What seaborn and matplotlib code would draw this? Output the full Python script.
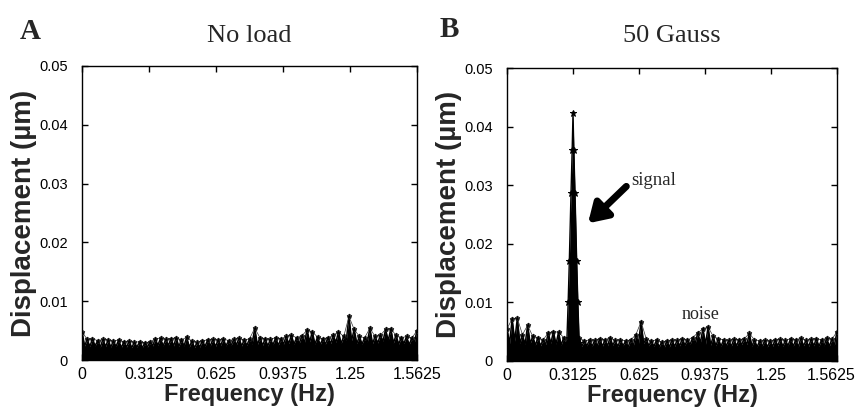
import numpy as np
import pandas as pd
import matplotlib
matplotlib.use("Agg")
import matplotlib.pyplot as plt
import matplotlib.transforms as mtransforms
import seaborn as sns

# ---------------- data ----------------
f_max = 1.5625
n_bins = 65                       # FFT bins 0 .. 1.5625 Hz
tick_vals = [0, 0.3125, 0.625, 0.9375, 1.25, 1.5625]
tick_labels = ["0", "0.3125", "0.625", "0.9375", "1.25", "1.5625"]
ytick_vals = [0, 0.01, 0.02, 0.03, 0.04, 0.05]
ytick_labels = ["0", "0.01", "0.02", "0.03", "0.04", "0.05"]

# Panel A (No load): local maxima of the spectrum at each bin (µm)
peaks_A = [0.0048,
           0.0035, 0.0036, 0.0033, 0.0035, 0.0034, 0.0032, 0.0034, 0.0031,
           0.0032, 0.0030, 0.0031, 0.0029, 0.0031, 0.0036, 0.0037, 0.0035,
           0.0036, 0.0038, 0.0034, 0.0039, 0.0032, 0.0030, 0.0033, 0.0034,
           0.0035, 0.0034, 0.0036, 0.0033, 0.0035, 0.0037, 0.0034, 0.0036,
           0.0054, 0.0038, 0.0036, 0.0035, 0.0038, 0.0036, 0.0040, 0.0042,
           0.0038, 0.0041, 0.0051, 0.0048, 0.0039, 0.0036, 0.0038, 0.0042,
           0.0048, 0.0040, 0.0074, 0.0052, 0.0040, 0.0038, 0.0054, 0.0040,
           0.0042, 0.0052, 0.0053, 0.0042, 0.0038, 0.0040, 0.0037, 0.0050]
# Panel A: minima between neighbouring bins (µm)
troughs_A = [0.0024, 0.0023, 0.0024, 0.0022, 0.0023, 0.0022, 0.0023, 0.0021,
             0.0022, 0.0021, 0.0022, 0.0021, 0.0022, 0.0024, 0.0025, 0.0024,
             0.0025, 0.0024, 0.0023, 0.0024, 0.0022, 0.0021, 0.0022, 0.0023,
             0.0024, 0.0023, 0.0025, 0.0024, 0.0025, 0.0026, 0.0024, 0.0025,
             0.0027, 0.0026, 0.0025, 0.0024, 0.0026, 0.0025, 0.0027, 0.0028,
             0.0027, 0.0028, 0.0030, 0.0031, 0.0027, 0.0026, 0.0027, 0.0028,
             0.0030, 0.0028, 0.0034, 0.0033, 0.0028, 0.0027, 0.0030, 0.0028,
             0.0029, 0.0032, 0.0033, 0.0029, 0.0027, 0.0028, 0.0026, 0.0030]

# Panel B (50 Gauss): background noise
peaks_B = [0.0055,
           0.0072, 0.0073, 0.0045, 0.0061, 0.0042, 0.0040, 0.0036, 0.0048,
           0.0050, 0.0049, 0.0040, 0.0040, 0.0040, 0.0040, 0.0034, 0.0036,
           0.0035, 0.0038, 0.0036, 0.0040, 0.0035, 0.0036, 0.0034, 0.0036,
           0.0045, 0.0067, 0.0038, 0.0034, 0.0036, 0.0032, 0.0034, 0.0036,
           0.0035, 0.0038, 0.0036, 0.0040, 0.0048, 0.0055, 0.0058, 0.0042,
           0.0038, 0.0036, 0.0035, 0.0037, 0.0036, 0.0038, 0.0047, 0.0036,
           0.0034, 0.0035, 0.0034, 0.0036, 0.0037, 0.0035, 0.0038, 0.0036,
           0.0039, 0.0035, 0.0037, 0.0038, 0.0036, 0.0039, 0.0037, 0.0050]
troughs_B = [0.0030, 0.0034, 0.0030, 0.0028, 0.0030, 0.0027, 0.0026, 0.0028,
             0.0030, 0.0029, 0.0027, 0.0026, 0.0026, 0.0027, 0.0025, 0.0026,
             0.0025, 0.0026, 0.0025, 0.0026, 0.0027, 0.0025, 0.0026, 0.0024,
             0.0026, 0.0030, 0.0030, 0.0026, 0.0025, 0.0024, 0.0023, 0.0024,
             0.0025, 0.0026, 0.0027, 0.0028, 0.0030, 0.0031, 0.0029, 0.0027,
             0.0026, 0.0025, 0.0026, 0.0025, 0.0026, 0.0028, 0.0028, 0.0025,
             0.0024, 0.0025, 0.0024, 0.0025, 0.0026, 0.0025, 0.0026, 0.0025,
             0.0024, 0.0026, 0.0025, 0.0026, 0.0025, 0.0026, 0.0025, 0.0027]

# Panel B: the driven signal peak at 0.3125 Hz
signal_freq = [0.2830, 0.2895, 0.2950, 0.3030, 0.3085, 0.3125,
               0.3165, 0.3220, 0.3300, 0.3355, 0.3420]
signal_amp = [0.0030, 0.0100, 0.0170, 0.0286, 0.0360, 0.0423,
              0.0360, 0.0286, 0.0170, 0.0100, 0.0030]

# ---------------- style ----------------
sns.set_theme(style="ticks")
plt.rcParams["font.family"] = ["Liberation Sans", "DejaVu Sans"]
plt.rcParams["axes.linewidth"] = 1.0
serif = ["Liberation Serif", "DejaVu Serif"]

fig = plt.figure(figsize=(8.59, 4.12), dpi=100)
axA = fig.add_axes([82 / 859, 1 - 360 / 412, 335 / 859, 294 / 412])
axB = fig.add_axes([507 / 859, 1 - 361 / 412, 330 / 859, 293 / 412])

freq = np.linspace(0, f_max, n_bins)


def zigzag(peaks, troughs):
    half = (freq[1] - freq[0]) / 2
    xs, ys = [], []
    for i in range(n_bins - 1):
        xs += [freq[i], freq[i] + half]
        ys += [peaks[i], troughs[i]]
    xs.append(freq[-1])
    ys.append(peaks[-1])
    return np.array(xs), np.array(ys)


def draw_spectrum(ax, peaks, troughs):
    xs, ys = zigzag(peaks, troughs)
    ax.fill_between(xs, 0, ys, color="black", lw=0, zorder=2)
    sns.lineplot(x=xs, y=ys, ax=ax, color="black", lw=1.1, zorder=3,
                 sort=False, estimator=None)
    sns.lineplot(x=freq, y=peaks, ax=ax, color="#333333", lw=0.5,
                 marker="o", markersize=2.8, markerfacecolor="none",
                 markeredgecolor="#222222", markeredgewidth=0.5,
                 zorder=4, sort=False, estimator=None)
    sns.scatterplot(x=freq, y=peaks, ax=ax, marker="*", s=14,
                    color="black", edgecolor="black", linewidth=0.3,
                    zorder=5)


def style_axis(ax):
    ax.set_xlim(0, f_max)
    ax.set_ylim(0, 0.05)
    ax.set_xticks(tick_vals)
    ax.set_xticklabels(tick_labels)
    ax.set_yticks(ytick_vals)
    ax.set_yticklabels(ytick_labels)
    ax.tick_params(direction="in", length=4, width=1, top=True, right=True,
                   colors="black")
    ax.tick_params(axis="x", labelsize=11.5, pad=5)
    ax.tick_params(axis="y", labelsize=10.5, pad=10)
    for s in ax.spines.values():
        s.set_visible(True)
        s.set_color("black")
        s.set_linewidth(1.0)
    ax.set_xlabel("Frequency (Hz)", fontsize=17, fontweight="bold", labelpad=1)
    ax.set_ylabel("Displacement (µm)", fontsize=20, fontweight="bold",
                  labelpad=2)


draw_spectrum(axA, peaks_A, troughs_A)
draw_spectrum(axB, peaks_B, troughs_B)

# signal peak
axB.fill_between(signal_freq, 0, signal_amp, color="black", lw=0, zorder=6)
sns.lineplot(x=signal_freq, y=signal_amp, ax=axB, color="black", lw=1.0,
             marker="*", markersize=4.5, markeredgecolor="black",
             markerfacecolor="black", zorder=7, sort=False, estimator=None)

style_axis(axA)
style_axis(axB)
# nudge the last tick label of panel B slightly left so it stays on the canvas
last = axB.get_xticklabels()[-1]
last.set_transform(last.get_transform() +
                   mtransforms.ScaledTranslation(-6 / 100, 0, fig.dpi_scale_trans))

axA.set_title("No load", fontsize=19, family=serif, pad=17)
axB.set_title("50 Gauss", fontsize=19, family=serif, pad=19)

fig.text(20 / 859, 1 - 39 / 412, "A", fontsize=21, fontweight="bold",
         family=serif, ha="left", va="baseline")
fig.text(440 / 859, 1 - 37 / 412, "B", fontsize=21, fontweight="bold",
         family=serif, ha="left", va="baseline")

axB.annotate("", xy=(0.3835, 0.0235), xytext=(0.565, 0.0298),
             arrowprops=dict(arrowstyle="-|>,head_length=0.8,head_width=0.5",
                             lw=5, color="black", mutation_scale=14,
                             shrinkA=0, shrinkB=0), zorder=8)
axB.text(0.696, 0.0308, "signal", fontsize=13.5, family=serif,
         ha="center", va="center")
axB.text(0.918, 0.0080, "noise", fontsize=13, family=serif,
         ha="center", va="center")

fig.savefig("out.png", dpi=100)
